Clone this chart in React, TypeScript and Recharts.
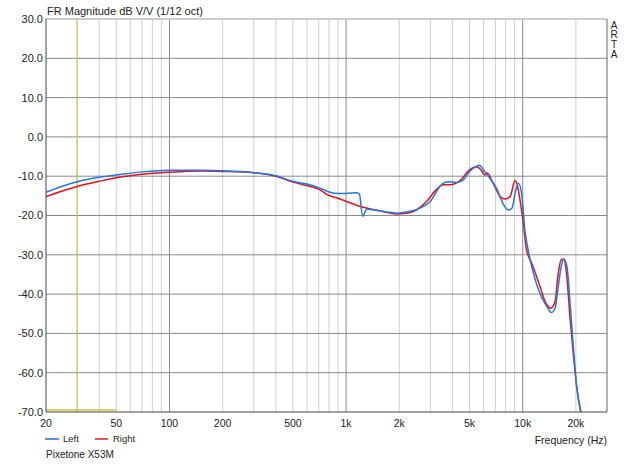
import { LineChart, Line, XAxis, YAxis, ReferenceLine } from 'recharts'

// frequency axis (Hz, log)
const xTicks = [20, 50, 100, 200, 500, 1000, 2000, 5000, 10000, 20000]
const xTickLabels = ['20', '50', '100', '200', '500', '1k', '2k', '5k', '10k', '20k']
const minorGrid = [
  30, 40, 50, 60, 70, 80, 90, 200, 300, 400, 500, 600, 700, 800, 900, 2000, 3000, 4000, 5000,
  6000, 7000, 8000, 9000, 20000,
]
const decadeGrid = [100, 1000, 10000]

// magnitude axis (dB)
const yTicks = [30, 20, 10, 0, -10, -20, -30, -40, -50, -60, -70]
const yGrid = [20, 10, 0, -10, -20, -30, -40, -50, -60]

// Left channel
const leftFreq = [
  20, 25, 30, 40, 50, 70, 100, 150, 200, 300, 400, 500, 600, 700, 800, 900, 1000, 1150, 1190,
  1240, 1310, 1500, 1700, 1950, 2200, 2600, 3000, 3400, 3600, 3800, 4200, 4600, 5000, 5500,
  5700, 6000, 6500, 7100, 7800, 8300, 8700, 9050, 9450, 9850, 10300, 10600, 11500, 12500,
  13700, 14500, 15250, 15800, 16600, 17100, 17800, 18600, 19400, 20200, 21600,
]
const leftDb = [
  -14.1, -12.5, -11.4, -10.25, -9.7, -8.9, -8.5, -8.5, -8.6, -9.1, -9.9, -11.3, -12.0, -12.9,
  -14.0, -14.4, -14.4, -14.2, -14.6, -20.2, -18.4, -18.7, -19.1, -19.4, -19.1, -18.2, -16.4,
  -12.6, -11.6, -11.4, -11.6, -11.0, -8.8, -7.4, -7.2, -8.4, -10.5, -13.0, -17.3, -18.6, -18.1,
  -14.3, -11.8, -14.3, -24.0, -27.5, -34.7, -39.8, -43.2, -44.7, -43.6, -38.9, -32.5, -31.1,
  -33.0, -43.2, -54.2, -63.5, -71.0,
]

// Right channel
const rightFreq = [
  20, 25, 30, 40, 50, 70, 100, 150, 200, 300, 400, 500, 600, 700, 800, 900, 1000, 1250, 1550,
  1930, 2200, 2500, 2860, 3260, 3550, 3870, 4400, 5000, 5500, 5850, 6100, 6300, 6800, 7450,
  7900, 8480, 9050, 9250, 9650, 10080, 10500, 11240, 12540, 13400, 14000, 14400, 15250, 15800,
  16500, 17000, 17700, 18500, 19400, 20200, 21500,
]
const rightDb = [
  -15.2, -13.7, -12.6, -11.3, -10.4, -9.5, -9.0, -8.7, -8.8, -9.1, -10.0, -11.5, -12.4, -13.3,
  -14.9, -15.6, -16.4, -17.9, -18.8, -19.6, -19.4, -18.6, -16.4, -13.3, -12.2, -12.2, -11.2,
  -8.4, -7.6, -8.6, -9.7, -9.2, -11.8, -15.2, -15.8, -15.2, -11.1, -11.8, -16.0, -22.0, -28.7,
  -32.1, -38.1, -41.9, -43.2, -43.6, -41.9, -35.5, -31.3, -31.1, -34.7, -45.7, -55.9, -63.5,
  -71.0,
]

const leftData = leftFreq.map((f, i) => ({ f, db: leftDb[i] }))
const rightData = rightFreq.map((f, i) => ({ f, db: rightDb[i] }))

const FONT = '"Liberation Sans", Arial, sans-serif'
const BLUE = '#1e78e6'
const RED = '#e8101a'

const text = (extra: React.CSSProperties): React.CSSProperties => ({
  position: 'absolute',
  whiteSpace: 'nowrap',
  color: '#222',
  lineHeight: 1,
  ...extra,
})

export default function App() {
  return (
    <div
      style={{
        position: 'absolute',
        left: 0,
        top: 0,
        width: 640,
        height: 464,
        background: '#fff',
        fontFamily: FONT,
      }}
    >
      <LineChart width={640} height={464} margin={{ top: 19, right: 33, left: 0, bottom: 0 }}>
        <XAxis
          dataKey="f"
          type="number"
          scale="log"
          domain={[20, 30000]}
          ticks={xTicks}
          interval={0}
          tickFormatter={(v) => xTickLabels[xTicks.indexOf(v)] ?? String(v)}
          height={52}
          tickLine={false}
          tickSize={0}
          tickMargin={8}
          tick={{ fontSize: 10.5, fill: '#222', fontFamily: FONT }}
          axisLine={{ stroke: '#444' }}
          allowDataOverflow
        />
        <YAxis
          type="number"
          domain={[-70, 30]}
          ticks={yTicks}
          interval={0}
          tickFormatter={(v) => Number(v).toFixed(1)}
          width={46}
          tickLine={false}
          tickSize={0}
          tickMargin={3}
          tick={{ fontSize: 11, fill: '#222', fontFamily: FONT }}
          axisLine={{ stroke: '#444' }}
          allowDataOverflow
        />
        {minorGrid.map((f) => (
          <ReferenceLine key={'m' + f} x={f} stroke="#cfcfcf" />
        ))}
        {decadeGrid.map((f) => (
          <ReferenceLine key={'d' + f} x={f} stroke="#8a8a8a" />
        ))}
        {yGrid.map((v) => (
          <ReferenceLine key={'y' + v} y={v} stroke="#8a8a8a" />
        ))}
        <ReferenceLine y={30} stroke="#bdbdbd" strokeWidth={1.5} />
        <ReferenceLine x={30000} stroke="#666" />
        <ReferenceLine x={30} stroke="#cdc43a" />
        <ReferenceLine
          segment={[
            { x: 20, y: -69.5 },
            { x: 50, y: -69.5 },
          ]}
          stroke="#cdc43a"
          strokeWidth={1.5}
        />
        <Line
          data={rightData}
          dataKey="db"
          name="Right"
          type="monotone"
          stroke={RED}
          strokeWidth={1.5}
          dot={false}
          activeDot={false}
          isAnimationActive={false}
        />
        <Line
          data={leftData}
          dataKey="db"
          name="Left"
          type="monotone"
          stroke={BLUE}
          strokeWidth={1.5}
          dot={false}
          activeDot={false}
          isAnimationActive={false}
        />
      </LineChart>

      <div style={text({ left: 47, top: 6, fontSize: 11 })}>FR Magnitude dB V/V (1/12 oct)</div>
      {['A', 'R', 'T', 'A'].map((ch, i) => (
        <div
          key={i}
          style={text({ left: 609, width: 10, textAlign: 'center', top: [20.5, 30.3, 40.1, 49.9][i], fontSize: 10 })}
        >
          {ch}
        </div>
      ))}

      <div style={{ position: 'absolute', left: 45, top: 438, width: 14, height: 2, background: '#5a90ee' }} />
      <div style={text({ left: 63, top: 434, fontSize: 9.5 })}>Left</div>
      <div style={{ position: 'absolute', left: 95, top: 438, width: 13, height: 2, background: '#f05454' }} />
      <div style={text({ left: 113, top: 434, fontSize: 9.5 })}>Right</div>

      <div style={text({ right: 33, top: 435.2, fontSize: 10.5 })}>Frequency (Hz)</div>
      <div style={text({ left: 46, top: 450.4, fontSize: 10 })}>Pixetone X53M</div>
    </div>
  )
}
